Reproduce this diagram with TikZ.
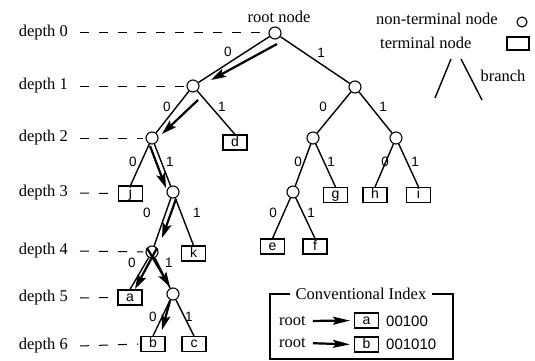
\documentclass[tikz,border=0pt]{standalone}
\usepackage{fontspec}
\setmainfont{Liberation Serif}
\newfontfamily\labelsans{Liberation Sans}
\usetikzlibrary{arrows.meta}

\begin{document}
\begin{tikzpicture}[x=1pt,y=-1pt,
  inner/.style={circle,draw,line width=1.1pt,minimum size=12pt,inner sep=0pt,fill=white},
  leaf/.style={rectangle,draw,line width=1.1pt,minimum width=24pt,minimum height=15pt,
    inner sep=0pt,text height=10pt,text depth=2.5pt,font=\labelsans\fontsize{14}{14}\selectfont},
  edge/.style={line width=1.4pt},
  bit/.style={font=\labelsans\fontsize{13.5}{14}\selectfont,inner sep=0pt},
  lbl/.style={font=\fontsize{16.5}{18}\selectfont,inner sep=0pt},
  level/.style={dash pattern=on 9pt off 10pt,line width=1pt},
  walk/.style={line width=2.2pt,-{Stealth[length=15pt,width=9pt,inset=3pt]}},
  idxarrow/.style={line width=2.2pt,-{Stealth[length=17pt,width=8pt,inset=3pt]}},
]
\useasboundingbox (0,0) rectangle (535,361);

% ---- tree nodes
\node[inner] (r0)  at (275,33)  {};
\node[inner] (n1)  at (193,86)  {};
\node[inner] (n1r) at (355,87)  {};
\node[inner] (n2)  at (152,138) {};
\node[inner] (n2a) at (313,138) {};
\node[inner] (n2b) at (396,138) {};
\node[inner] (n3)  at (173,192) {};
\node[inner] (n3r) at (293,192) {};
\node[inner] (n4)  at (152,252) {};
\node[inner] (n5)  at (173,294) {};

\node[leaf] (d) at (235,142.5) {d};
\node[leaf] (j) at (130.5,193.5) {j};
\node[leaf] (g) at (335.5,195) {g};
\node[leaf] (h) at (375,195) {h};
\node[leaf] (i) at (418.5,195) {i};
\node[leaf] (e) at (272.5,246.5) {e};
\node[leaf] (f) at (315,246.5) {f};
\node[leaf] (k) at (193.5,253.5) {k};
\node[leaf] (a) at (130,297.5) {a};
\node[leaf] (b) at (153,344) {b};
\node[leaf] (c) at (194,344) {c};

% ---- branches
\draw[edge] (r0) -- (n1);
\draw[edge] (r0) -- (n1r);
\draw[edge] (n1) -- (n2);
\draw[edge] (n1) -- (d.north);
\draw[edge] (n1r) -- (n2a);
\draw[edge] (n1r) -- (n2b);
\draw[edge] (n2) -- (j.north);
\draw[edge] (n2) -- (n3);
\draw[edge] (n2a) -- (n3r);
\draw[edge] (n2a) -- (g.north);
\draw[edge] (n2b) -- (h.north);
\draw[edge] (n2b) -- (i.north);
\draw[edge] (n3) -- (n4);
\draw[edge] (n3) -- (k.north);
\draw[edge] (n3r) -- (e.north);
\draw[edge] (n3r) -- (f.north);
\draw[edge] (n4) -- (a.north);
\draw[edge] (n4) -- (n5);
\draw[edge] (n5) -- (b.north);
\draw[edge] (n5) -- (c.north);

% ---- branch bits
\node[bit] at (228,52)  {0};
\node[bit] at (321,53)  {1};
\node[bit] at (167,107) {0};
\node[bit] at (222,107) {1};
\node[bit] at (323,107) {0};
\node[bit] at (383,107) {1};
\node[bit] at (133,162) {0};
\node[bit] at (170,162) {1};
\node[bit] at (298,162) {0};
\node[bit] at (331,162) {1};
\node[bit] at (385,162) {0};
\node[bit] at (415,162) {1};
\node[bit] at (147,213) {0};
\node[bit] at (197,213) {1};
\node[bit] at (273,213) {0};
\node[bit] at (311,213) {1};
\node[bit] at (132,263) {0};
\node[bit] at (169,263) {1};
\node[bit] at (153,317) {0};
\node[bit] at (189,317) {1};

% ---- search path arrows
\coordinate (w1s) at (277,44);  \coordinate (w1e) at (211,80);
\coordinate (w2s) at (198,100); \coordinate (w2e) at (162,134);
\coordinate (w3s) at (150,146); \coordinate (w3e) at (166,188);
\coordinate (w4s) at (176,199); \coordinate (w4e) at (162,238);
\coordinate (w5s) at (157,248); \coordinate (w5e) at (135,289);
\coordinate (w6s) at (147,248); \coordinate (w6e) at (170,287);
\coordinate (w7s) at (170,301); \coordinate (w7e) at (162,330);
\foreach \k in {1,...,7} \draw[walk] (w\k s) -- (w\k e);

% ---- depth labels
\node[lbl,anchor=east] (dl0) at (68,33)  {depth 0};
\node[lbl,anchor=east] (dl1) at (68,86)  {depth 1};
\node[lbl,anchor=east] (dl2) at (68,138) {depth 2};
\node[lbl,anchor=east] (dl3) at (68,193) {depth 3};
\node[lbl,anchor=east] (dl4) at (68,251) {depth 4};
\node[lbl,anchor=east] (dl5) at (68,298) {depth 5};
\node[lbl,anchor=east] (dl6) at (68,346) {depth 6};
\draw[level] ([xshift=12pt]dl0.east) -- ([xshift=-2pt]r0.west);
\draw[level] ([xshift=12pt]dl1.east) -- ([xshift=-2pt]n1.west);
\draw[level] ([xshift=12pt]dl2.east) -- ([xshift=-2pt]n2.west);
\draw[level] ([xshift=12pt]dl3.east) -- ([xshift=-2pt]j.west);
\draw[level] ([xshift=12pt]dl4.east) -- ([xshift=-2pt]n4.west);
\draw[level] ([xshift=12pt]dl5.east) -- ([xshift=-2pt]a.west);
\draw[level] ([xshift=12pt]dl6.east) -- ([xshift=-2pt]b.west);

\node[lbl] (rootlbl) at (279,17) {root node};

% ---- legend
\node[lbl,anchor=west] (lg1) at (376,19) {non-terminal node};
\node[circle,draw,line width=1.1pt,minimum size=10pt,inner sep=0pt] (lgc) at (522,22) {};
\node[lbl,anchor=west] (lg2) at (380,43) {terminal node};
\node[rectangle,draw,line width=1.1pt,minimum width=22pt,minimum height=13pt,inner sep=0pt] (lgb) at (518,43.5) {};
\coordinate (br1) at (435,98);  \coordinate (br2) at (451,59);
\coordinate (br3) at (461,59);  \coordinate (br4) at (482,100);
\draw[edge] (br1) -- (br2);
\draw[edge] (br3) -- (br4);
\node[lbl] (lg3) at (503,76) {branch};

% ---- conventional index
\draw[line width=1.1pt] (270,294) rectangle (453,359);
\node[lbl,fill=white,inner xsep=6pt,inner ysep=2pt] (ixt) at (361,294) {Conventional Index};
\node[lbl,anchor=west] (ir1) at (279,321) {root};
\node[lbl,anchor=west] (ir2) at (279,343) {root};
\node[leaf] (ia) at (366.5,320.5) {a};
\node[leaf] (ib) at (366.5,344.5) {b};
\draw[idxarrow,shorten <=7pt,shorten >=4pt] (ir1.east) -- (ia.west);
\draw[idxarrow,shorten <=7pt,shorten >=4pt] (ir2.east) -- (ib.west);
\node[anchor=west,inner sep=0pt,font=\labelsans\fontsize{15}{15}\selectfont] (ca) at (386,321) {00100};
\node[anchor=west,inner sep=0pt,font=\labelsans\fontsize{15}{15}\selectfont] (cb) at (386,344) {001010};
\end{tikzpicture}
\end{document}
